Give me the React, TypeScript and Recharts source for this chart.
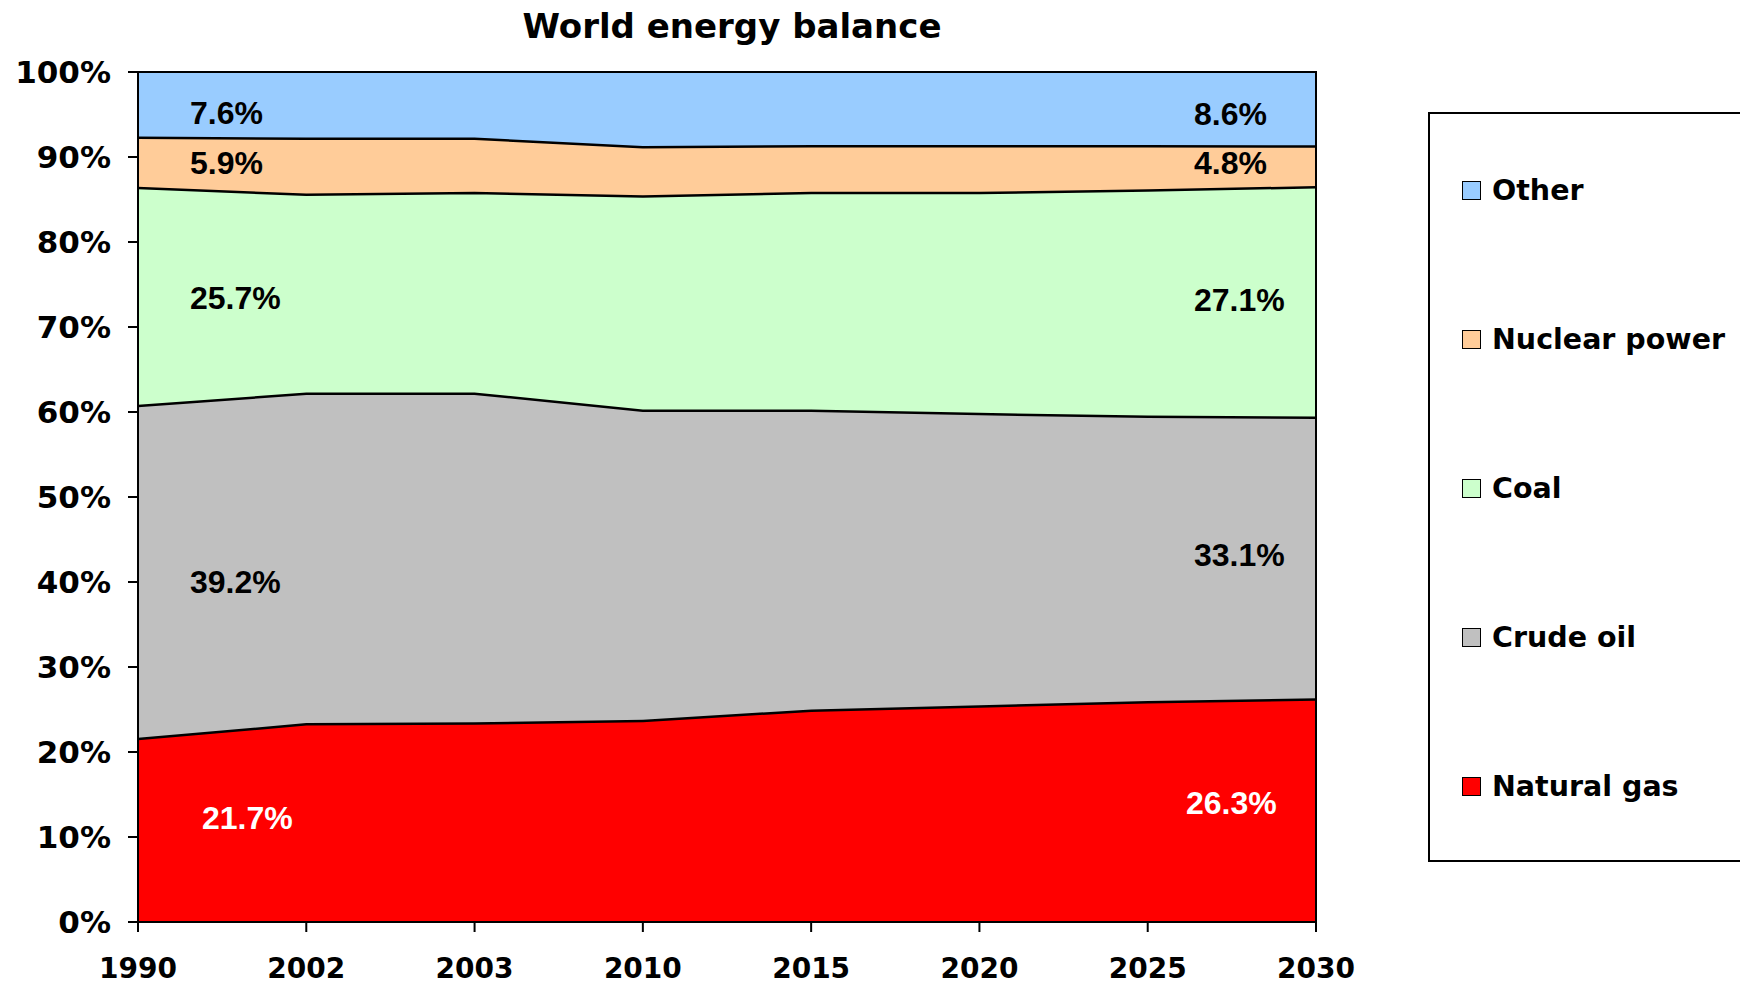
import { AreaChart, Area, XAxis, YAxis, ReferenceArea } from 'recharts';

// Shares of world primary energy, in percent
const years = ['1990', '2002', '2003', '2010', '2015', '2020', '2025', '2030'];
const naturalGas = [21.7, 23.4, 23.5, 23.8, 25.0, 25.5, 26.0, 26.3];
const crudeOil = [39.2, 38.9, 38.8, 36.5, 35.3, 34.4, 33.6, 33.1];
const coal = [25.7, 23.4, 23.6, 25.2, 25.6, 26.0, 26.6, 27.1];
const nuclearPower = [5.9, 6.6, 6.4, 5.8, 5.5, 5.5, 5.2, 4.8];
const other = [7.6, 7.7, 7.7, 8.7, 8.6, 8.6, 8.6, 8.6];

const yTicks = [0, 0.1, 0.2, 0.3, 0.4, 0.5, 0.6, 0.7, 0.8, 0.9, 1];

type SeriesKey = 'gas' | 'oil' | 'coal' | 'nuclear' | 'other';

const rows = years.map((year, i) => ({
  year,
  gas: naturalGas[i],
  oil: crudeOil[i],
  coal: coal[i],
  nuclear: nuclearPower[i],
  other: other[i],
}));

const series: { key: SeriesKey; name: string; color: string; labelColor: string }[] = [
  { key: 'gas', name: 'Natural gas', color: '#FF0000', labelColor: '#FFFFFF' },
  { key: 'oil', name: 'Crude oil', color: '#C0C0C0', labelColor: '#000000' },
  { key: 'coal', name: 'Coal', color: '#CCFFCC', labelColor: '#000000' },
  { key: 'nuclear', name: 'Nuclear power', color: '#FFCC99', labelColor: '#000000' },
  { key: 'other', name: 'Other', color: '#99CCFF', labelColor: '#000000' },
];

const WIDTH = 1740;
const HEIGHT = 984;
const MARGIN = { top: 72, right: 424, bottom: 12, left: 38 };
const Y_AXIS_W = 100;
const X_AXIS_H = 50;
const PLOT_H = HEIGHT - MARGIN.top - MARGIN.bottom - X_AXIS_H;

const axisFont = '"DejaVu Sans", Verdana, sans-serif';
const labelFont = '"Liberation Sans", Arial, sans-serif';

// value label nudges from the first / last point: [dx first, dx last, dy first, dy last]
const labelNudge: Record<SeriesKey, [number, number, number, number]> = {
  gas: [64, -130, -12, -8],
  oil: [52, -122, 10, -3],
  coal: [52, -122, 2, -2],
  nuclear: [52, -122, 1, -3],
  other: [52, -122, 8, 5],
};

const makeLabel = (key: SeriesKey, color: string) => (props: any) => {
  const index = props.index;
  if (index !== 0 && index !== years.length - 1) return null;
  const x = props.x ?? props.viewBox?.x;
  const y = props.y ?? props.viewBox?.y;
  if (x == null || y == null) return null;
  const row = rows[index];
  const total = row.gas + row.oil + row.coal + row.nuclear + row.other;
  const band = (row[key] / total) * PLOT_H;
  const first = index === 0;
  const [dxFirst, dxLast, dyFirst, dyLast] = labelNudge[key];
  return (
    <text
      key={`${key}-${index}`}
      x={x + (first ? dxFirst : dxLast)}
      y={y + band / 2 + (first ? dyFirst : dyLast)}
      dy="0.36em"
      fill={color}
      fontFamily={labelFont}
      fontWeight="bold"
      fontSize={32}
    >
      {row[key].toFixed(1)}%
    </text>
  );
};

const legendCenters = [190, 339, 488, 637, 786];

export default function App() {
  const legendItems = [...series].reverse();
  return (
    <div style={{ position: 'absolute', left: 0, top: 0, width: WIDTH, height: HEIGHT, overflow: 'hidden', background: '#fff' }}>
      <div
        style={{
          position: 'absolute',
          left: 0,
          top: 9,
          width: 1464,
          textAlign: 'center',
          fontFamily: axisFont,
          fontWeight: 'bold',
          fontSize: 34,
          lineHeight: '34px',
          color: '#000',
        }}
      >
        World energy balance
      </div>

      <AreaChart width={WIDTH} height={HEIGHT} data={rows} margin={MARGIN} stackOffset="expand">
        <XAxis
          dataKey="year"
          height={X_AXIS_H}
          interval={0}
          tickSize={10}
          tickMargin={26}
          axisLine={{ stroke: '#000', strokeWidth: 2 }}
          tickLine={{ stroke: '#000', strokeWidth: 2 }}
          tick={{ fill: '#000', fontFamily: axisFont, fontWeight: 'bold', fontSize: 28 }}
        />
        <YAxis
          width={Y_AXIS_W}
          domain={[0, 1]}
          ticks={yTicks}
          interval={0}
          tickSize={10}
          tickMargin={17}
          tickFormatter={(v: number) => `${Math.round(v * 100)}%`}
          axisLine={{ stroke: '#000', strokeWidth: 2 }}
          tickLine={{ stroke: '#000', strokeWidth: 2 }}
          tick={{ fill: '#000', fontFamily: axisFont, fontWeight: 'bold', fontSize: 31 }}
        />
        {/* each band's fill covers half of the stroke below it, hence the wide stroke;
            the top band only traces the frame, so it keeps a thin one */}
        {series.map((s) => (
          <Area
            key={s.key}
            type="linear"
            dataKey={s.key}
            name={s.name}
            stackId="energy"
            fill={s.color}
            fillOpacity={1}
            stroke="#000"
            strokeWidth={s.key === 'other' ? 2 : 5}
            isAnimationActive={false}
            label={makeLabel(s.key, s.labelColor)}
          />
        ))}
        <ReferenceArea x1="1990" x2="2030" y1={0} y2={1} fill="none" stroke="#000" strokeWidth={2} />
      </AreaChart>

      {/* legend box runs off the right edge */}
      <div
        style={{
          position: 'absolute',
          left: 1428,
          top: 112,
          width: 340,
          height: 750,
          border: '2px solid #000',
          boxSizing: 'border-box',
        }}
      />
      {legendItems.map((s, i) => (
        <div
          key={s.key}
          style={{
            position: 'absolute',
            left: 1462,
            top: legendCenters[i] - 20,
            height: 40,
            display: 'flex',
            alignItems: 'center',
            fontFamily: axisFont,
            fontWeight: 'bold',
            fontSize: 28.5,
            color: '#000',
            whiteSpace: 'nowrap',
          }}
        >
          <span
            style={{
              display: 'inline-block',
              width: 19,
              height: 19,
              boxSizing: 'border-box',
              background: s.color,
              border: '1.5px solid #000',
              marginRight: 11,
            }}
          />
          {s.name}
        </div>
      ))}
    </div>
  );
}
